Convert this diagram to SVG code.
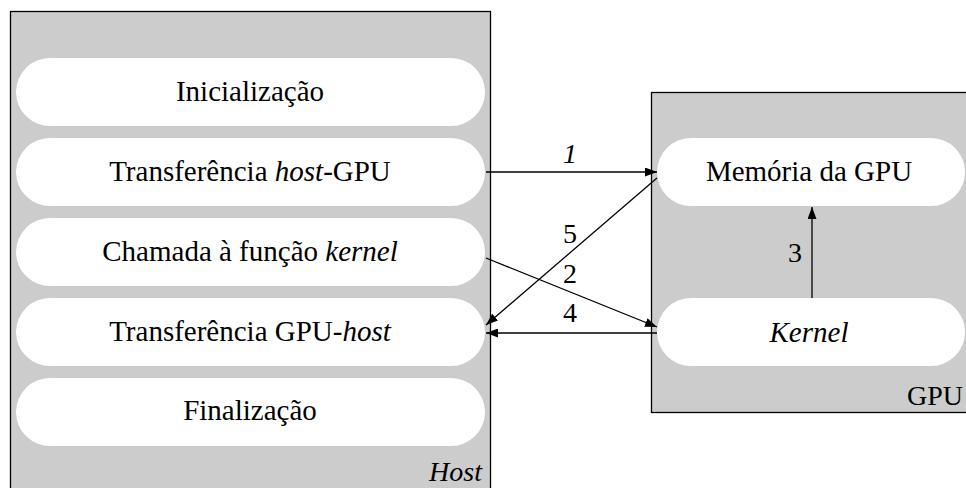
<svg xmlns="http://www.w3.org/2000/svg" width="966" height="488" viewBox="0 0 966 488" font-family="'Liberation Serif', 'DejaVu Serif', serif">
  <style>
    .frame { fill: #cccccc; stroke: #000; stroke-width: 1.3; }
    .pill { fill: #ffffff; stroke: none; }
    text { font-family: 'Liberation Serif', 'DejaVu Serif', serif; fill: #000; }
    .lbl { font-size: 29px; text-anchor: middle; }
    .num { font-size: 28px; text-anchor: middle; }
    .corner { font-size: 28px; text-anchor: end; }
    .it { font-style: italic; }
    .edge { stroke: #000; stroke-width: 1.3; fill: none; marker-end: url(#arrow); }
  </style>
  <defs>
    <marker id="arrow" viewBox="0 0 12 9" refX="12" refY="4.5" markerWidth="12" markerHeight="9" markerUnits="userSpaceOnUse" orient="auto">
      <path d="M0,0 L12,4.5 L0,9 z" fill="#000"/>
    </marker>
  </defs>

  <!-- Host container -->
  <g id="host">
    <rect class="frame" x="10.5" y="11.5" width="480" height="490"/>
    <text class="corner it" x="482" y="481">Host</text>
  </g>

  <!-- GPU container -->
  <g id="gpu">
    <rect class="frame" x="651.5" y="92.5" width="330" height="320"/>
    <text class="corner" x="963" y="405">GPU</text>
  </g>

  <!-- Host steps -->
  <g id="inicializacao">
    <rect class="pill" x="16" y="58" width="469" height="68" rx="34"/>
    <text class="lbl" x="250" y="101">Inicialização</text>
  </g>
  <g id="transf-host-gpu">
    <rect class="pill" x="16" y="138" width="469" height="68" rx="34"/>
    <text class="lbl" x="250" y="181">Transferência <tspan class="it">host</tspan>-GPU</text>
  </g>
  <g id="chamada-kernel">
    <rect class="pill" x="16" y="218" width="469" height="68" rx="34"/>
    <text class="lbl" x="250" y="261">Chamada à função <tspan class="it">kernel</tspan></text>
  </g>
  <g id="transf-gpu-host">
    <rect class="pill" x="16" y="298" width="469" height="68" rx="34"/>
    <text class="lbl" x="250" y="341">Transferência GPU-<tspan class="it">host</tspan></text>
  </g>
  <g id="finalizacao">
    <rect class="pill" x="16" y="378" width="469" height="68" rx="34"/>
    <text class="lbl" x="250" y="420">Finalização</text>
  </g>

  <!-- GPU parts -->
  <g id="memoria-gpu">
    <rect class="pill" x="657" y="138" width="308" height="68" rx="34"/>
    <text class="lbl" x="809" y="181">Memória da GPU</text>
  </g>
  <g id="kernel">
    <rect class="pill" x="657" y="298" width="308" height="68" rx="34"/>
    <text class="lbl it" x="809" y="342">Kernel</text>
  </g>

  <!-- Connectors -->
  <g id="connectors">
    <line class="edge" x1="486" y1="172" x2="657" y2="172"/>
    <text class="num it" x="570" y="163">1</text>

    <line class="edge" x1="486" y1="258" x2="657" y2="327"/>
    <text class="num" x="570" y="283">2</text>

    <line class="edge" x1="812" y1="298" x2="812" y2="207"/>
    <text class="num" x="795" y="262">3</text>

    <line class="edge" x1="657" y1="333" x2="486" y2="333"/>
    <text class="num" x="570" y="322">4</text>

    <line class="edge" x1="657" y1="178" x2="486" y2="325"/>
    <text class="num" x="570" y="243">5</text>
  </g>
</svg>
